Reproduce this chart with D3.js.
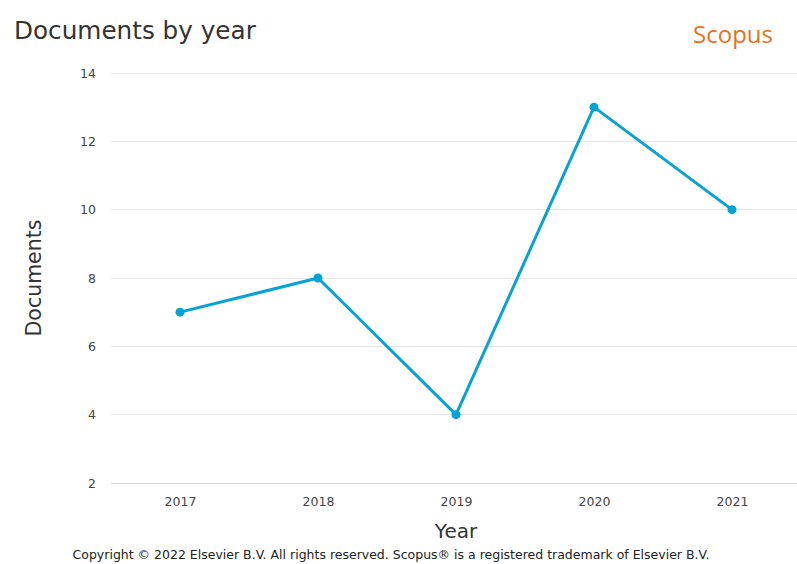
<!DOCTYPE html>
<html><head><meta charset="utf-8">
<script src="https://cdn.jsdelivr.net/npm/d3@7"></script>
<style>body{margin:0;background:#fff}svg{display:block}</style>
</head><body>
<script>
const years = ["2017","2018","2019","2020","2021"];
const documents = [7, 8, 4, 13, 10];
const yTicks = [2,4,6,8,10,12,14];

const W = 797, H = 564;
const svg = d3.select("body").append("svg").attr("width", W).attr("height", H)
  .style("font-family","'DejaVu Sans', sans-serif");

const x = d3.scalePoint().domain(years).range([111, 801]).padding(0.5);
const y = d3.scaleLinear().domain([2, 14]).range([483, 73]);

// gridlines
svg.append("g").selectAll("line").data(yTicks.filter(t => t !== 2)).join("line")
  .attr("x1", 111).attr("x2", W).attr("y1", d => y(d)).attr("y2", d => y(d))
  .attr("stroke", "#e6e6e6").attr("stroke-width", 1).attr("shape-rendering","crispEdges");

// y axis labels
const yAxis = svg.append("g").attr("transform", "translate(111,0)")
  .call(d3.axisLeft(y).tickValues(yTicks).tickSize(0).tickPadding(15));
yAxis.select(".domain").remove();
yAxis.selectAll("text").attr("font-size", 12.5).attr("fill", "#444").attr("font-family","'DejaVu Sans', sans-serif");

// x axis
const xAxis = svg.append("g").attr("transform", "translate(0,483)")
  .call(d3.axisBottom(x).tickSize(0).tickPadding(14));
xAxis.select(".domain").attr("stroke", "#ccd6eb").attr("d", "M111,0.5H" + W);
xAxis.selectAll("text").attr("font-size", 12.5).attr("fill", "#444").attr("font-family","'DejaVu Sans', sans-serif");

// line
const data = years.map((yr, i) => ({yr, v: documents[i]}));
svg.append("path").datum(data)
  .attr("fill", "none").attr("stroke", "#07a2d6").attr("stroke-width", 3)
  .attr("stroke-linejoin","round")
  .attr("d", d3.line().x(d => x(d.yr)).y(d => y(d.v)));
svg.append("g").selectAll("circle").data(data).join("circle")
  .attr("cx", d => x(d.yr)).attr("cy", d => y(d.v)).attr("r", 4.5).attr("fill", "#07a2d6");

// titles
svg.append("text").attr("x", 14).attr("y", 39).attr("font-size", 24.7).attr("fill", "#333")
  .text("Documents by year");
svg.append("text").attr("x", 773).attr("y", 43).attr("text-anchor","end")
  .attr("font-family","'Open Sans', sans-serif").attr("font-size", 24).attr("fill", "#e9711c")
  .text("Scopus");
svg.append("text").attr("x", 456).attr("y", 538).attr("text-anchor","middle")
  .attr("font-size", 20).attr("fill", "#333").text("Year");
svg.append("text").attr("transform", "translate(41,278) rotate(-90)").attr("text-anchor","middle")
  .attr("font-size", 20.5).attr("fill", "#333").text("Documents");
svg.append("text").attr("x", 391).attr("y", 559).attr("text-anchor","middle")
  .attr("font-size", 12.5).attr("fill", "#222")
  .text("Copyright © 2022 Elsevier B.V. All rights reserved. Scopus® is a registered trademark of Elsevier B.V.");
</script>
</body></html>
